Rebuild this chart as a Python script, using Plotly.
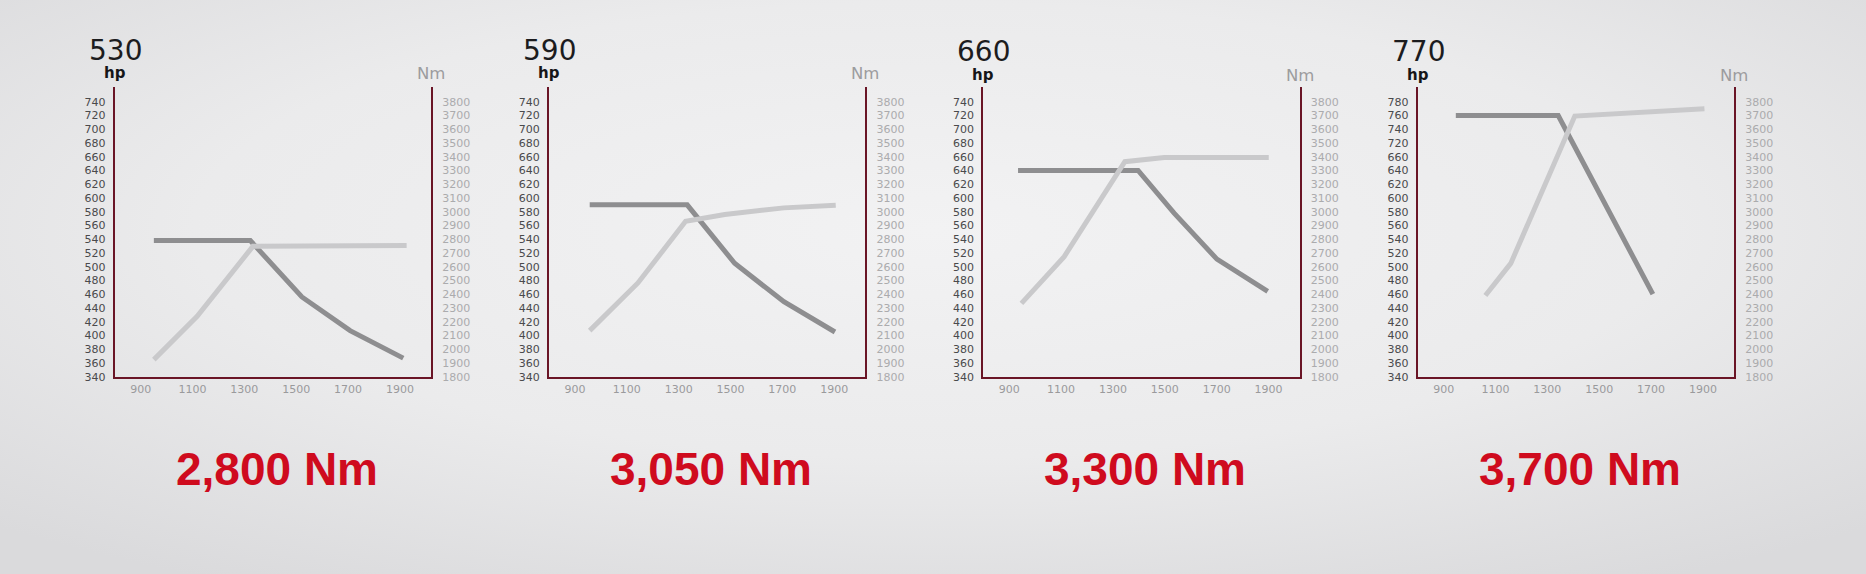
import base64
import numpy as np
import plotly.graph_objects as go

# ---------------- data ----------------
hp_titles = ["530", "590", "660", "770"]
torque_titles = ["2,800 Nm", "3,050 Nm", "3,300 Nm", "3,700 Nm"]

rpm_ticks = [900, 1100, 1300, 1500, 1700, 1900]
hp_ticks = list(range(340, 741, 20))
hp_ticks_p4 = list(range(340, 661, 20)) + [720, 740, 760, 780]
nm_ticks = list(range(1800, 3801, 100))

p1_power_rpm = [951, 1323, 1522, 1708, 1913]
p1_power_hp = [538, 538, 456, 407, 367]
p1_torque_rpm = [951, 1118, 1333, 1926]
p1_torque_nm = [1924, 2239, 2748, 2755]

p2_power_rpm = [957, 1333, 1516, 1706, 1903]
p2_power_hp = [590, 590, 505, 449, 405]
p2_torque_rpm = [957, 1143, 1327, 1478, 1706, 1906]
p2_torque_nm = [2135, 2482, 2930, 2980, 3028, 3048]

p3_power_rpm = [934, 1397, 1536, 1701, 1897]
p3_power_hp = [640, 640, 578, 511, 464]
p3_torque_rpm = [947, 1112, 1346, 1498, 1901]
p3_torque_nm = [2333, 2673, 3364, 3395, 3395]

p4_power_rpm = [947, 1342, 1707]
p4_power_hp = [760, 760, 460]
p4_torque_rpm = [1061, 1159, 1406, 1906]
p4_torque_nm = [2390, 2624, 3696, 3749]

panels = [
    (p1_power_rpm, p1_power_hp, p1_torque_rpm, p1_torque_nm, hp_ticks),
    (p2_power_rpm, p2_power_hp, p2_torque_rpm, p2_torque_nm, hp_ticks),
    (p3_power_rpm, p3_power_hp, p3_torque_rpm, p3_torque_nm, hp_ticks),
    (p4_power_rpm, p4_power_hp, p4_torque_rpm, p4_torque_nm, hp_ticks_p4),
]

# ---------------- style ----------------
W, H = 1866, 582          # browser viewport is a little taller than the final picture
REF_H = 574               # positions below are measured on the 574-high picture
AXIS_RED = "#6a1526"
DARK_LINE = "#8e8e90"
LIGHT_LINE = "#c9c9cb"
RED = "#cf0b1e"
FONT = "DejaVu Sans"


def fy(y_px):
    return 1 - y_px / REF_H


panel_left = [114.7, 549.0, 983.3, 1417.7]
panel_w = 316.3
top_px, bot_px = 86.5, 376.0
y_lo, y_hi = 340, 762
x_lo, x_hi = 800, 2020

svg = f"""<svg xmlns='http://www.w3.org/2000/svg' width='{W}' height='{H}'>
<defs><radialGradient id='g' cx='50%' cy='40%' r='72%'>
<stop offset='0%' stop-color='#f2f2f3'/><stop offset='55%' stop-color='#ebebec'/>
<stop offset='100%' stop-color='#dadadc'/></radialGradient></defs>
<rect width='100%' height='100%' fill='url(#g)'/></svg>"""
bg_uri = "data:image/svg+xml;base64," + base64.b64encode(svg.encode()).decode()

fig = go.Figure()
layout = dict(
    width=W, height=H,
    margin=dict(l=0, r=0, t=0, b=0),
    paper_bgcolor="#e9e9ea",
    plot_bgcolor="rgba(0,0,0,0)",
    showlegend=False,
    images=[dict(source=bg_uri, xref="paper", yref="paper", x=0, y=1,
                 sizex=1, sizey=1, sizing="stretch", layer="below")],
    annotations=[],
)

ydom = [fy(bot_px), fy(top_px)]
for i, (prpm, php, trpm, tnm, hp_labels) in enumerate(panels):
    xa = f"x{i+1}"
    yl = f"y{2*i+1}"
    yr = f"y{2*i+2}"
    x0 = panel_left[i] / W
    x1 = (panel_left[i] + panel_w) / W

    # power positions through the axis labelling
    ypos = np.interp(php, hp_labels, hp_ticks)

    fig.add_trace(go.Scatter(x=trpm, y=tnm, mode="lines", xaxis=xa, yaxis=yr,
                             line=dict(color=LIGHT_LINE, width=5), hoverinfo="skip"))
    fig.add_trace(go.Scatter(x=prpm, y=ypos, mode="lines", xaxis=xa, yaxis=yl,
                             line=dict(color=DARK_LINE, width=5), hoverinfo="skip"))

    layout[f"xaxis{i+1}"] = dict(
        domain=[x0, x1], anchor=yl, range=[x_lo, x_hi],
        tickvals=rpm_ticks, ticktext=[str(v) for v in rpm_ticks],
        showgrid=False, zeroline=False, showline=True, linecolor=AXIS_RED, linewidth=2,
        ticks="", ticklabelstandoff=1,
        tickfont=dict(family=FONT, size=11, color="#9a9a9c"),
    )
    layout[f"yaxis{2*i+1}"] = dict(
        domain=ydom, anchor=xa, range=[y_lo, y_hi],
        tickvals=hp_ticks, ticktext=[str(v) for v in hp_labels],
        showgrid=False, zeroline=False, showline=True, linecolor=AXIS_RED, linewidth=2,
        ticks="", ticklabelstandoff=5,
        tickfont=dict(family=FONT, size=11, color="#4a4a4c"),
    )
    layout[f"yaxis{2*i+2}"] = dict(
        domain=ydom, anchor=xa, overlaying=yl, side="right",
        range=[1800, 1800 + (y_hi - y_lo) * 5],
        tickvals=nm_ticks, ticktext=[str(v) for v in nm_ticks],
        showgrid=False, zeroline=False, showline=True, linecolor=AXIS_RED, linewidth=2,
        ticks="", ticklabelstandoff=7,
        tickfont=dict(family=FONT, size=11, color="#ababad"),
    )

    cx = panel_left[i]
    # big hp number
    layout["annotations"].append(dict(
        text=hp_titles[i], xref="paper", yref="paper",
        x=(cx - 28) / W, y=fy(50 + (1.5 if i >= 2 else 0)),
        xanchor="left", yanchor="middle", showarrow=False,
        font=dict(family=FONT, size=28, color="#1c1c1e")))
    # hp label
    layout["annotations"].append(dict(
        text="<b>hp</b>", xref="paper", yref="paper",
        x=cx / W, y=fy(73 + (2 if i >= 2 else 0)),
        xanchor="center", yanchor="middle", showarrow=False,
        font=dict(family=FONT, size=15, color="#161618")))
    # Nm label
    layout["annotations"].append(dict(
        text="Nm", xref="paper", yref="paper",
        x=(cx + panel_w) / W, y=fy(73 + (2 if i >= 2 else 0)),
        xanchor="center", yanchor="middle", showarrow=False,
        font=dict(family=FONT, size=16.5, color="#9c9c9e")))
    # red torque headline
    layout["annotations"].append(dict(
        text=f"<b>{torque_titles[i]}</b>", xref="paper", yref="paper",
        x=(cx + panel_w / 2 + 4) / W, y=fy(468),
        xanchor="center", yanchor="middle", showarrow=False,
        font=dict(family="Liberation Sans", size=46, color=RED)))

fig.update_layout(**layout)
fig.write_html(
    "out.html",
    config={"displayModeBar": False},
    post_script=(
        "document.documentElement.style.margin='0';"
        "document.documentElement.style.background='#dcdcde';"
        "document.body.style.background='#dcdcde';"
        "document.body.style.margin='0';"
        "document.body.style.overflow='hidden';"
        "document.documentElement.style.overflow='hidden';"
        "var d=document.getElementById('{plot_id}');"
        "d.style.position='fixed';d.style.top='0px';d.style.left='0px';"
        "window.scrollTo(0,0);"
    ),
)
